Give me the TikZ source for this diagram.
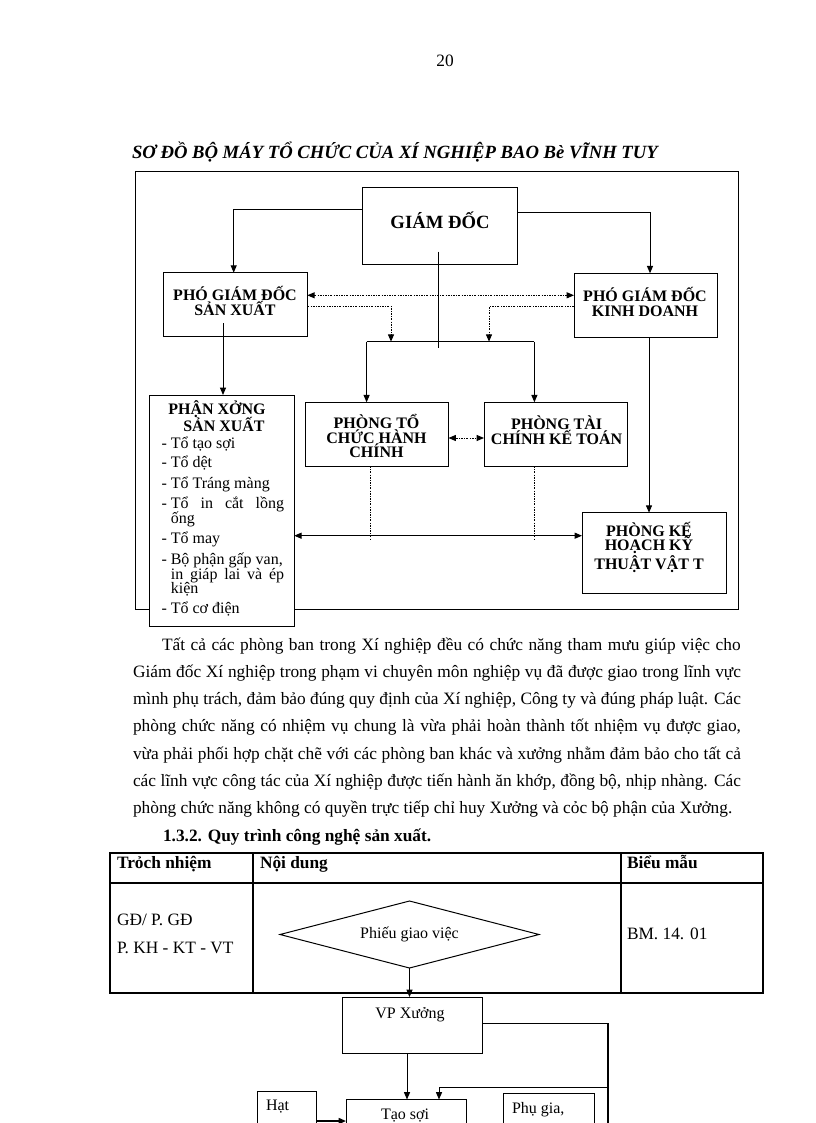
\documentclass[tikz,border=0pt]{standalone}
\usepackage{fontspec}
\setmainfont{Liberation Serif}
\usetikzlibrary{arrows.meta,shapes.geometric,fit,calc}
\begin{document}
\begin{tikzpicture}[x=0.75pt,y=-0.75pt,
  every node/.style={inner sep=0pt, outer sep=0pt},
  ln/.style={line width=0.75pt},
  pbox/.style={draw, line width=0.75pt, fill=white, inner sep=0pt, outer sep=0pt},
  arr/.style={line width=0.75pt, -{Triangle[length=5.5pt,width=4.5pt]}},
  darr/.style={line width=0.75pt, {Triangle[length=5.5pt,width=4.5pt]}-{Triangle[length=5.5pt,width=4.5pt]}},
  dotl/.style={line width=0.6pt, dash pattern=on 1.5pt off 1pt on 0.5pt off 1pt},
  tbl/.style={line width=1pt},
  body/.style={font=\fontsize{13}{15}\selectfont, anchor=mid west},
  bodyb/.style={font=\fontsize{13}{15}\selectfont\bfseries, anchor=mid west},
  cbold/.style={font=\fontsize{12}{11}\selectfont\bfseries, align=center},
  lst/.style={font=\fontsize{12}{14}\selectfont, anchor=mid west},
  ftext/.style={font=\fontsize{12}{14}\selectfont}
]
\useasboundingbox (0,0) rectangle (816,1123);
\clip (0,0) rectangle (816,1123);
\fill[white] (0,0) rectangle (816,1123);

% page number and title
\node[font=\fontsize{13}{15}\selectfont, anchor=mid] (pnum) at (445,63) {20};
\node[font=\fontsize{14}{16}\selectfont\bfseries\itshape, anchor=mid west] (title) at (132,155)
  {SƠ ĐỒ BỘ MÁY TỔ CHỨC CỦA XÍ NGHIỆP BAO Bè VĨNH TUY};

% outer frame
\draw[ln] (135,171.7) rectangle (738,609.3);

% boxes
\node[pbox, fit={(362.7,187.7)(517.8,264)}] (gd) {};
\node[pbox, fit={(163.6,272.7)(307.3,336)}] (psx) {};
\node[pbox, fit={(574,273.3)(717.6,337)}] (pkd) {};
\node[pbox, fit={(305,402.3)(448.5,466)}] (ptc) {};
\node[pbox, fit={(484,402.3)(627.8,466)}] (ptk) {};
\node[pbox, fit={(582,512.7)(726.7,593.3)}] (pkh) {};
\node[pbox, fit={(149.8,395)(294.2,626.7)}] (pxs) {};

% box texts
\node[font=\fontsize{14}{16}\selectfont\bfseries] (tgd) at (440,220) {GIÁM ĐỐC};
\node[cbold] (tpsx) at (235,301) {PHÓ GIÁM ĐỐC\\SẢN XUẤT};
\node[cbold] (tpkd) at (645,302) {PHÓ GIÁM ĐỐC\\KINH DOANH};
\node[cbold] (tptc) at (376.5,436) {PHÒNG TỔ\\CHỨC HÀNH\\CHÍNH};
\node[cbold] (tptk) at (556.6,430) {PHÒNG TÀI\\CHÍNH KẾ TOÁN};
\node[cbold] (tpkh) at (649,547) {PHÒNG KẾ\\HOẠCH KỸ\\THUẬT VẬT T};
\node[cbold, anchor=mid] (tpx1) at (217,411) {PHẬN XỞNG};
\node[cbold, anchor=mid] (tpx2) at (224,428.5) {SẢN XUẤT};

% list in workshop box
\node[lst] (l1) at (161.6,445.5) {\makebox[6.9pt][l]{-}Tổ tạo sợi};
\node[lst] (l2) at (161.6,464) {\makebox[6.9pt][l]{-}Tổ dệt};
\node[lst] (l3) at (161.6,485) {\makebox[6.9pt][l]{-}Tổ Tráng màng};
\node[lst] (l4) at (161.6,505) {\makebox[6.9pt][l]{-}\makebox[85pt][s]{Tổ in cắt lồng}};
\node[lst] (l4b) at (170.8,520) {ống};
\node[lst] (l5) at (161.6,540) {\makebox[6.9pt][l]{-}Tổ may};
\node[lst] (l6) at (161.6,561) {\makebox[6.9pt][l]{-}Bộ phận gấp van,};
\node[lst] (l6b) at (170.8,576) {\makebox[85pt][s]{in giáp lai và ép}};
\node[lst] (l6c) at (170.8,590) {kiện};
\node[lst] (l7) at (161.6,610) {\makebox[6.9pt][l]{-}Tổ cơ điện};

% connectors of the chart
\draw[arr] (gd.west |- 0,209.3) -| (psx.north -| 233.7,0);
\draw[arr] (gd.east |- 0,212.7) -| (pkd.north -| 650,0);
\draw[dotl, darr] (psx.east |- 0,295.3) -- (pkd.west |- 0,295.3);
\coordinate (busL) at (366.6,341.7);
\coordinate (busR) at (534.4,341.7);
\coordinate (bA) at (391,341.7);
\coordinate (bB) at (489,341.7);
\coordinate (gdEnd) at (438.6,348.3);
\draw[dotl, arr] (psx.east |- 0,306) -| (bA);
\draw[dotl, arr] (pkd.west |- 0,306.7) -| (bB);
\draw[ln] (gdEnd |- 0,251.7) -- (gdEnd);
\draw[ln] (busL) -- (busR);
\draw[arr] (busL) -- (ptc.north -| busL);
\draw[arr] (busR) -- (ptk.north -| busR);
\draw[dotl, darr] (ptc.east |- 0,438) -- (ptk.west |- 0,438);
\coordinate (dA) at (370.6,539.3);
\coordinate (dB) at (534.4,539.3);
\draw[dotl] (ptc.south -| dA) -- (dA);
\draw[dotl] (ptk.south -| dB) -- (dB);
\draw[darr] (pxs.east |- 0,535.7) -- (pkh.west |- 0,535.7);
\coordinate (psxIn) at (223,323);
\draw[arr] (psxIn) -- (pxs.north -| psxIn);
\draw[arr] (pkd.south -| 649,0) -- (pkh.north -| 649,0);

% paragraph
\node[body] (p1) at (162,647) {\makebox[434pt][s]{Tất cả các phòng ban trong Xí nghiệp đều có chức năng tham mưu giúp việc cho}};
\node[body] (p2) at (133,674.3) {\makebox[456pt][s]{Giám đốc Xí nghiệp trong phạm vi chuyên môn nghiệp vụ đã được giao trong lĩnh vực}};
\node[body] (p3) at (133,701.6) {\makebox[456pt][s]{mình phụ trách, đảm bảo đúng quy định của Xí nghiệp, Công ty và đúng pháp luật. Các}};
\node[body] (p4) at (133,728.9) {\makebox[456pt][s]{phòng chức năng có nhiệm vụ chung là vừa phải hoàn thành tốt nhiệm vụ được giao,}};
\node[body] (p5) at (133,756.2) {\makebox[456pt][s]{vừa phải phối hợp chặt chẽ với các phòng ban khác và xưởng nhằm đảm bảo cho tất cả}};
\node[body] (p6) at (133,783.5) {\makebox[456pt][s]{các lĩnh vực công tác của Xí nghiệp được tiến hành ăn khớp, đồng bộ, nhịp nhàng. Các}};
\node[body] (p7) at (133,810.8) {phòng chức năng không có quyền trực tiếp chỉ huy Xưởng và cỏc bộ phận của Xưởng.};
\node[bodyb] (sec) at (163,838) {1.3.2. Quy trình công nghệ sản xuất.};

% table
\draw[tbl] (110,853) rectangle (763,993);
\draw[tbl] (110,883) -- (763,883);
\draw[tbl] (253,853) -- (253,993);
\draw[tbl] (621,853) -- (621,993);
\node[bodyb] (h1) at (117,865) {Trỏch nhiệm};
\node[bodyb] (h2) at (260,865) {Nội dung};
\node[bodyb] (h3) at (627,865) {Biểu mẫu};
\node[body] (c1) at (117,922) {GĐ/ P. GĐ};
\node[body] (c2) at (117,950) {P. KH - KT - VT};
\node[body] (c3) at (627,936) {BM. 14. 01};
\node[draw, line width=0.75pt, diamond, shape aspect=3.87, minimum width=194.25pt, minimum height=50.25pt,
  font=\fontsize{12}{14}\selectfont] (pgv) at (409.5,934.5) {Phiếu giao việc};

% flowchart below the table
\node[pbox, fit={(342,997)(482,1053)}] (vp) {};
\node[pbox, fit={(346,1099.5)(466,1145)}] (ts) {};
\node[pbox, fit={(257,1091)(316,1145)}] (hat) {};
\node[pbox, fit={(503,1093)(594,1145)}] (pg) {};
\node[ftext, anchor=mid] (tvp) at (410,1015) {VP Xưởng};
\node[ftext, anchor=mid west] (that) at (266,1107) {Hạt};
\node[ftext, anchor=mid] (tts) at (405,1116) {Tạo sợi};
\node[ftext, anchor=mid west] (tpg) at (512,1110) {Phụ gia,};

\draw[arr] (pgv.south) -- (vp.north -| pgv.south);
\coordinate (rTop) at (608,1023);
\coordinate (rFeed) at (608,1087);
\coordinate (rBot) at (608,1140);
\draw[ln] (vp.east |- rTop) -- (rTop);
\draw[line width=1.5pt] (rTop) -- (rBot);
\draw[arr] (vp.south -| 407,0) -- (ts.north -| 407,0);
\draw[arr] (rFeed) -| (ts.north -| 439,0);
\draw[arr, line width=1.2pt] (hat.east |- 0,1121) -- (ts.west |- 0,1121);
\end{tikzpicture}
\end{document}
